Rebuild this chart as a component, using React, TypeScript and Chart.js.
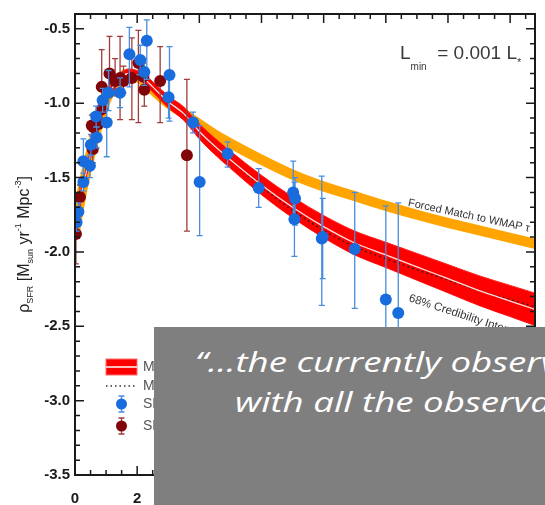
import React, { useEffect, useRef } from "react";
import { Chart, registerables } from "chart.js";

Chart.register(...registerables);

// ---------------- data ----------------
const modelZ = [0, 0.25, 0.5, 0.75, 1, 1.25, 1.5, 1.75, 2, 2.25, 2.5, 3, 3.5, 4, 4.5, 5, 6, 7, 8, 9, 10, 11, 12, 13, 14, 15];
const modelMedian = [-1.86, -1.57, -1.34, -1.14, -0.98, -0.88, -0.82, -0.8, -0.81, -0.84, -0.89, -0.99, -1.07, -1.19, -1.29, -1.38, -1.55, -1.7, -1.83, -1.94, -2.02, -2.1, -2.18, -2.26, -2.33, -2.4];
const modelUpper = [-1.82, -1.535, -1.305, -1.107, -0.948, -0.85, -0.79, -0.77, -0.78, -0.808, -0.855, -0.95, -1.025, -1.14, -1.235, -1.322, -1.485, -1.63, -1.755, -1.86, -1.935, -2.01, -2.085, -2.16, -2.225, -2.29];
const modelLower = [-1.9, -1.605, -1.375, -1.173, -1.012, -0.91, -0.85, -0.83, -0.84, -0.872, -0.925, -1.03, -1.115, -1.24, -1.345, -1.438, -1.615, -1.77, -1.905, -2.02, -2.105, -2.19, -2.275, -2.36, -2.435, -2.51];
const modelMaxLike = [-1.86, -1.57, -1.34, -1.14, -0.98, -0.88, -0.82, -0.8, -0.81, -0.84, -0.89, -0.99, -1.07, -1.19, -1.29, -1.38, -1.56, -1.72, -1.855, -1.965, -2.045, -2.12, -2.19, -2.26, -2.32, -2.38];
const wmapForced = [-1.86, -1.57, -1.34, -1.14, -0.98, -0.88, -0.82, -0.8, -0.82, -0.86, -0.91, -1.0, -1.07, -1.14, -1.21, -1.27, -1.38, -1.48, -1.56, -1.625, -1.69, -1.75, -1.805, -1.855, -1.905, -1.955];

// SFR density points (blue)
const uvZ = [0.05, 0.11, 0.27, 0.27, 0.48, 0.51, 0.7, 0.68, 0.89, 1.02, 1.08, 1.45, 1.75, 2.1, 2.23, 2.31, 3.04, 3.01, 3.8, 4.01, 4.91, 5.91, 7.02, 7.08, 7.06, 7.94, 7.97, 9.0, 10.0, 10.4];
const uvRho = [-1.8, -1.73, -1.53, -1.39, -1.42, -1.28, -1.23, -1.09, -0.98, -1.13, -0.93, -0.93, -0.67, -0.71, -0.79, -0.58, -0.81, -0.96, -1.13, -1.53, -1.34, -1.57, -1.6, -1.64, -1.78, -1.91, -1.9, -1.98, -2.32, -2.41];
const uvLo = [-1.86, -1.79, -1.59, -1.53, -1.5, -1.35, -1.3, -1.16, -1.06, -1.36, -1.05, -1.03, -0.89, -0.81, -0.88, -0.84, -1.12, -1.1, -1.2, -1.89, -1.43, -1.7, -1.8, -1.82, -2.03, -2.36, -2.18, -2.38, -3.0, -3.1];
const uvHi = [-1.74, -1.67, -1.47, -1.24, -1.35, -1.21, -1.16, -1.02, -0.9, -0.93, -0.78, -0.83, -0.49, -0.61, -0.7, -0.44, -0.62, -0.83, -1.06, -1.15, -1.26, -1.44, -1.39, -1.5, -1.53, -1.49, -1.64, -1.6, -1.69, -1.67];

// SFR density points (dark red)
const irZ = [0.03, 0.16, 0.57, 0.59, 0.54, 0.75, 0.86, 0.86, 1.11, 1.29, 1.45, 1.56, 1.83, 2.04, 2.2, 2.23, 2.74, 3.6];
const irRho = [-1.88, -1.63, -1.31, -1.16, -1.15, -1.14, -1.04, -0.89, -0.8, -0.85, -0.83, -0.85, -0.83, -0.73, -0.82, -0.91, -0.85, -1.35];
const irLo = [-2.08, -1.72, -1.4, -1.25, -1.22, -1.22, -1.1, -1.0, -0.92, -0.95, -1.11, -0.93, -1.11, -1.13, -0.9, -1.02, -1.13, -1.86];
const irHi = [-1.7, -1.55, -1.22, -1.07, -1.08, -1.06, -0.97, -0.64, -0.55, -0.7, -0.55, -0.75, -0.56, -0.51, -0.73, -0.8, -0.62, -0.84];

const yTickValues = [-3.5, -3.0, -2.5, -2.0, -1.5, -1.0, -0.5];
const xTickValues = [0, 2, 4, 6, 8, 10, 12, 14];
const legendLabels = ["Model 68% Credibility", "Maximum Likelihood Model", "SFR Density (UV)", "SFR Density (IR)"];
const quoteLine1 = "\u201c\u2026the currently observed galaxy population";
const quoteLine2 = "with all the observational constraints";

// ---------------- styles ----------------
const BLUE = "rgb(24,108,222)";
const BLUE_ERR = "rgb(72,140,222)";
const DRED = "rgb(128,4,8)";
const DRED_ERR = "rgb(160,60,60)";
const RED = "rgb(255,0,0)";
const ORANGE = "rgb(255,164,0)";
const FONT = "'Liberation Sans', Arial, sans-serif";

const errSets: Record<string, { z: number[]; lo: number[]; hi: number[]; color: string }> = {
  uv: { z: uvZ, lo: uvLo, hi: uvHi, color: BLUE_ERR },
  ir: { z: irZ, lo: irLo, hi: irHi, color: DRED_ERR },
};

const errorBarPlugin = {
  id: "errorBars",
  beforeDatasetDraw(chart: any, args: any) {
    const ds = chart.data.datasets[args.index];
    const set = errSets[ds.key];
    if (!set) return;
    const { ctx, chartArea: a, scales } = chart;
    ctx.save();
    ctx.beginPath();
    ctx.rect(a.left, a.top, a.right - a.left, a.bottom - a.top);
    ctx.clip();
    ctx.strokeStyle = set.color;
    ctx.lineWidth = 1.3;
    ctx.beginPath();
    for (let i = 0; i < set.z.length; i++) {
      const px = scales.x.getPixelForValue(set.z[i]);
      const y1 = scales.y.getPixelForValue(set.lo[i]);
      const y2 = scales.y.getPixelForValue(set.hi[i]);
      ctx.moveTo(px, y1);
      ctx.lineTo(px, y2);
      ctx.moveTo(px - 3, y1);
      ctx.lineTo(px + 3, y1);
      ctx.moveTo(px - 3, y2);
      ctx.lineTo(px + 3, y2);
    }
    ctx.stroke();
    ctx.restore();
  },
};

function drawRich(ctx: CanvasRenderingContext2D, parts: { t: string; s: number; dy: number }[], x: number, y: number, center: boolean) {
  let total = 0;
  for (const p of parts) {
    ctx.font = `${p.s}px ${FONT}`;
    total += ctx.measureText(p.t).width;
  }
  let cx = center ? x - total / 2 : x;
  for (const p of parts) {
    ctx.font = `${p.s}px ${FONT}`;
    ctx.fillText(p.t, cx, y + p.dy);
    cx += ctx.measureText(p.t).width;
  }
}

const decorPlugin = {
  id: "decor",
  afterDatasetsDraw(chart: any) {
    const { ctx, chartArea: a, scales } = chart;
    const xs = scales.x;
    const ys = scales.y;
    ctx.save();
    // frame
    ctx.strokeStyle = "#1a1a1a";
    ctx.lineWidth = 2;
    ctx.strokeRect(a.left, a.top, a.right - a.left, a.bottom - a.top);
    // inward ticks
    ctx.lineWidth = 1.5;
    ctx.beginPath();
    for (let k = 0; k * 0.5 <= xs.max + 1e-6; k++) {
      const px = xs.getPixelForValue(k * 0.5);
      const len = k % 4 === 0 ? 9 : 5;
      ctx.moveTo(px, a.bottom);
      ctx.lineTo(px, a.bottom - len);
      ctx.moveTo(px, a.top);
      ctx.lineTo(px, a.top + len);
    }
    for (let k = -35; k <= -4; k++) {
      const py = ys.getPixelForValue(k / 10);
      const len = k % 5 === 0 ? 9 : 5;
      ctx.moveTo(a.left, py);
      ctx.lineTo(a.left + len, py);
      ctx.moveTo(a.right, py);
      ctx.lineTo(a.right - len, py);
    }
    ctx.stroke();

    // L_min annotation
    ctx.fillStyle = "#3a3a3a";
    ctx.textBaseline = "alphabetic";
    drawRich(
      ctx,
      [
        { t: "L", s: 19, dy: 0 },
        { t: "min", s: 10, dy: 11 },
        { t: "  = 0.001 L", s: 19, dy: 0 },
        { t: "*", s: 11, dy: 7 },
      ],
      a.right - 135,
      a.top + 45,
      false
    );

    // curve labels
    ctx.save();
    ctx.translate(xs.getPixelForValue(10.7), ys.getPixelForValue(-1.69));
    ctx.rotate((12 * Math.PI) / 180);
    ctx.font = `11px ${FONT}`;
    ctx.fillStyle = "#333";
    ctx.fillText("Forced Match to WMAP \u03c4", 0, 0);
    ctx.restore();

    ctx.save();
    ctx.translate(xs.getPixelForValue(10.72), ys.getPixelForValue(-2.33));
    ctx.rotate((18 * Math.PI) / 180);
    ctx.font = `11.5px ${FONT}`;
    ctx.fillStyle = "#333";
    ctx.fillText("68% Credibility Interval", 0, 0);
    ctx.restore();

    // legend
    const lx = a.left + 31;
    const lw = 31;
    const tx = a.left + 68;
    const rows = [a.top + 353, a.top + 372, a.top + 390, a.top + 412];
    ctx.fillStyle = RED;
    ctx.strokeStyle = "rgb(255,110,110)";
    ctx.lineWidth = 1;
    ctx.fillRect(lx, rows[0] - 8, lw, 16);
    ctx.strokeRect(lx, rows[0] - 8, lw, 16);
    ctx.strokeStyle = "#fff";
    ctx.lineWidth = 1.5;
    ctx.beginPath();
    ctx.moveTo(lx, rows[0]);
    ctx.lineTo(lx + lw, rows[0]);
    ctx.stroke();
    ctx.strokeStyle = "#333";
    ctx.setLineDash([1.5, 3]);
    ctx.beginPath();
    ctx.moveTo(lx, rows[1]);
    ctx.lineTo(lx + lw, rows[1]);
    ctx.stroke();
    ctx.setLineDash([]);
    const mk = (cy: number, col: string, ecol: string) => {
      const cx = lx + lw / 2;
      ctx.strokeStyle = ecol;
      ctx.lineWidth = 1.3;
      ctx.beginPath();
      ctx.moveTo(cx, cy - 8);
      ctx.lineTo(cx, cy + 8);
      ctx.moveTo(cx - 3, cy - 8);
      ctx.lineTo(cx + 3, cy - 8);
      ctx.moveTo(cx - 3, cy + 8);
      ctx.lineTo(cx + 3, cy + 8);
      ctx.stroke();
      ctx.fillStyle = col;
      ctx.beginPath();
      ctx.arc(cx, cy, 5.5, 0, Math.PI * 2);
      ctx.fill();
    };
    mk(rows[2], BLUE, BLUE_ERR);
    mk(rows[3], DRED, DRED_ERR);
    ctx.fillStyle = "#555";
    ctx.font = `14px ${FONT}`;
    ctx.textBaseline = "middle";
    legendLabels.forEach((t, i) => ctx.fillText(t, tx, rows[i]));

    // y axis title
    ctx.textBaseline = "alphabetic";
    ctx.fillStyle = "#222";
    ctx.translate(29, (a.top + a.bottom) / 2);
    ctx.rotate(-Math.PI / 2);
    drawRich(
      ctx,
      [
        { t: "\u03c1", s: 16, dy: 0 },
        { t: "SFR", s: 9, dy: 4 },
        { t: " [M", s: 16, dy: 0 },
        { t: "sun", s: 9, dy: 4 },
        { t: " yr", s: 16, dy: 0 },
        { t: "-1", s: 9, dy: -8 },
        { t: " Mpc", s: 16, dy: 0 },
        { t: "-3", s: 9, dy: -8 },
        { t: "]", s: 16, dy: 0 },
      ],
      0,
      0,
      true
    );
    ctx.restore();
  },
};

const pts = (xs: number[], ys: number[]) => xs.map((x, i) => ({ x, y: ys[i] }));

const quoteStyle: React.CSSProperties = {
  position: "absolute",
  whiteSpace: "nowrap",
  color: "#fff",
  fontFamily: "'Open Sans', sans-serif",
  fontStyle: "italic",
  fontSize: 28,
  lineHeight: "28px",
  transform: "scaleX(1.31)",
  transformOrigin: "left top",
};

export default function App() {
  const ref = useRef<HTMLCanvasElement | null>(null);
  useEffect(() => {
    if (!ref.current) return;
    const chart = new Chart(ref.current, {
      type: "scatter",
      data: {
        datasets: [
          { key: "uv", label: legendLabels[2], data: pts(uvZ, uvRho), pointRadius: 6, pointBackgroundColor: BLUE, pointBorderWidth: 0, order: 0 } as any,
          { key: "ir", label: legendLabels[3], data: pts(irZ, irRho), pointRadius: 6, pointBackgroundColor: DRED, pointBorderWidth: 0, order: 1 } as any,
          { type: "line", label: "median", data: pts(modelZ, modelMedian), borderColor: "rgba(255,235,235,0.95)", borderWidth: 1.3, pointRadius: 0, cubicInterpolationMode: "monotone", fill: false, order: 2 } as any,
          { type: "line", label: legendLabels[1], data: pts(modelZ, modelMaxLike), borderColor: "#222", borderWidth: 1.5, borderDash: [1.5, 3.5], pointRadius: 0, cubicInterpolationMode: "monotone", fill: false, order: 3 } as any,
          { type: "line", label: "upper", data: pts(modelZ, modelUpper), borderColor: "rgb(255,30,30)", backgroundColor: RED, borderWidth: 1, pointRadius: 0, cubicInterpolationMode: "monotone", fill: 5, order: 4 } as any,
          { type: "line", label: "lower", data: pts(modelZ, modelLower), borderColor: "rgb(255,30,30)", borderWidth: 1, pointRadius: 0, cubicInterpolationMode: "monotone", fill: false, order: 5 } as any,
          { type: "line", label: "wmap", data: pts(modelZ, wmapForced), borderColor: ORANGE, borderWidth: 10, pointRadius: 0, cubicInterpolationMode: "monotone", fill: false, order: 6 } as any,
        ],
      },
      options: {
        responsive: false,
        animation: false,
        layout: { padding: { top: 10, right: 10, left: 0, bottom: 0 } },
        plugins: { legend: { display: false }, tooltip: { enabled: false } },
        scales: {
          x: {
            type: "linear",
            min: 0,
            max: 14.8,
            afterBuildTicks: (s: any) => {
              s.ticks = xTickValues.map((v) => ({ value: v }));
            },
            afterFit: (s: any) => {
              s.height = 30;
            },
            ticks: { color: "#1a1a1a", font: { family: FONT, size: 15, weight: "bold" }, padding: 15, maxRotation: 0, autoSkip: false, callback: (v: any) => String(v) },
            grid: { display: false, drawTicks: false },
            border: { display: false },
          },
          y: {
            type: "linear",
            min: -3.5,
            max: -0.4,
            afterBuildTicks: (s: any) => {
              s.ticks = yTickValues.map((v) => ({ value: v }));
            },
            afterFit: (s: any) => {
              s.width = 75;
            },
            ticks: { color: "#1a1a1a", font: { family: FONT, size: 15, weight: "bold" }, padding: 5, autoSkip: false, callback: (v: any) => Number(v).toFixed(1) },
            grid: { display: false, drawTicks: false },
            border: { display: false },
          },
        },
      },
      plugins: [errorBarPlugin, decorPlugin],
    } as any);
    return () => chart.destroy();
  }, []);

  return (
    <div style={{ position: "absolute", left: 0, top: 0, width: 545, height: 505, overflow: "hidden", background: "#fff" }}>
      <canvas ref={ref} width={545} height={505} style={{ display: "block" }} />
      <div style={{ position: "absolute", left: 154, top: 327, width: 391, height: 178, background: "rgb(127,127,127)", overflow: "hidden" }}>
        <div style={{ ...quoteStyle, left: 41, top: 20 }}>{quoteLine1}</div>
        <div style={{ ...quoteStyle, left: 81, top: 60 }}>{quoteLine2}</div>
      </div>
    </div>
  );
}
